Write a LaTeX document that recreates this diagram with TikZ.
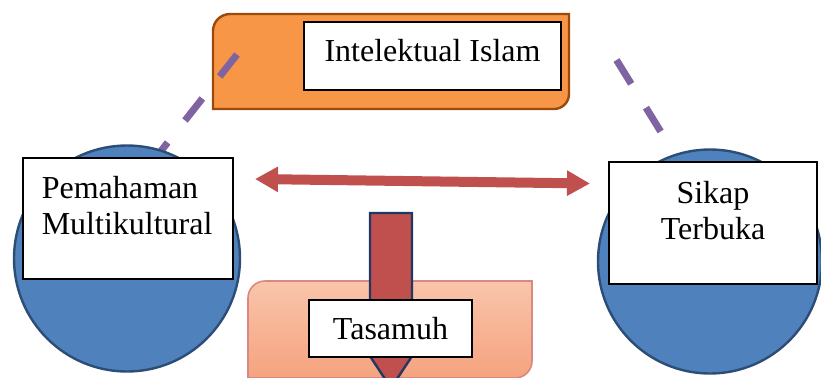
\documentclass[tikz,border=0pt]{standalone}
\usepackage{fontspec}
\setmainfont{Liberation Serif}
\usepackage{xcolor}
\usetikzlibrary{arrows.meta, positioning}
\definecolor{orangefill}{HTML}{F79646}
\definecolor{orangeline}{HTML}{9C4A0C}
\definecolor{ballfill}{HTML}{4F81BD}
\definecolor{ballline}{HTML}{2C4D75}
\definecolor{dashpurple}{HTML}{8064A2}
\definecolor{arrowred}{HTML}{C0504D}
\definecolor{arrowline}{HTML}{1F3864}
\definecolor{salmontop}{HTML}{F9C5AB}
\definecolor{salmonbot}{HTML}{F5A27E}
\definecolor{salmonline}{HTML}{DA8882}

\begin{document}
\begin{tikzpicture}[x=0.5pt, y=-0.5pt,
  txt/.style={inner sep=0pt, font=\fontsize{16}{18}\selectfont},
  whitebox/.style={draw=black, line width=0.6pt, fill=white, inner sep=0pt, font=\fontsize{16}{18}\selectfont},
  ball/.style={circle, draw=ballline, line width=1.2pt, fill=ballfill, inner sep=0pt},
  purpledash/.style={draw=dashpurple, line width=3.5pt, dash pattern=on 14pt off 14pt}]
\useasboundingbox (0,0) rectangle (821,377);
\clip (0,0) rectangle (821,377);

% top box
\draw[fill=orangefill, draw=orangeline, line width=1.2pt] (213,109) -- (213,31) .. controls (213,21.6) and (220.6,14) .. (230,14) -- (569,14) -- (569,94) .. controls (569,102.3) and (562.3,109) .. (554,109) -- cycle;
\node[whitebox, minimum width=128.5pt, minimum height=34pt] (islbox) at (432.5,56) {};
\node[txt] (isltext) at ([yshift=2.5pt]islbox.center) {Intelektual Islam};

% dashed links
\coordinate (islL) at (237,54.5);
\coordinate (islR) at (616.5,60);
\coordinate (mkT) at (146,170);
\coordinate (tbT) at (695,187);
\draw[purpledash] (islL) -- (mkT);
\draw[purpledash] (islR) -- (tbT);

% circles
\node[ball, minimum size=113pt] (mkball) at (127,258.5) {};
\node[ball, minimum size=112pt] (tbball) at (710,261.5) {};
\node[whitebox, minimum width=105pt, minimum height=60.5pt] (mkbox) at (128,218.5) {};
\node[txt, align=left, anchor=north west] (mktext) at ([xshift=9.5pt,yshift=-9pt]mkbox.north west) {Pemahaman\\Multikultural};
\node[whitebox, minimum width=104pt, minimum height=61pt] (tbbox) at (713,223) {};
\node[txt, align=center, anchor=north] (tbtext) at ([yshift=-9.5pt]tbbox.north) {Sikap\\Terbuka};

% double arrow
\coordinate (arrL) at (255,179);
\coordinate (arrR) at (590,183.5);
\draw[arrowred, line width=5pt, {Triangle[length=11.5pt,width=12pt]}-{Triangle[length=11.5pt,width=12pt]}] (arrL) -- (arrR);

% bottom box
\shadedraw[top color=salmontop, bottom color=salmonbot, draw=salmonline, line width=0.8pt] (248,380) -- (248,298) .. controls (248,288.6) and (255.6,281) .. (265,281) -- (532,281) -- (532,361) .. controls (532,370.4) and (524.4,378) .. (515,378) -- (248,378) -- cycle;
\draw[fill=arrowred, draw=arrowline, line width=1.2pt] (370,213) -- (412,213) -- (412,339.5) -- (423,339.5) -- (391,388) -- (359,339.5) -- (370,339.5) -- cycle;
\node[whitebox, minimum width=81.5pt, minimum height=28.5pt] (tsbox) at (390.5,328.5) {Tasamuh};
\end{tikzpicture}
\end{document}
